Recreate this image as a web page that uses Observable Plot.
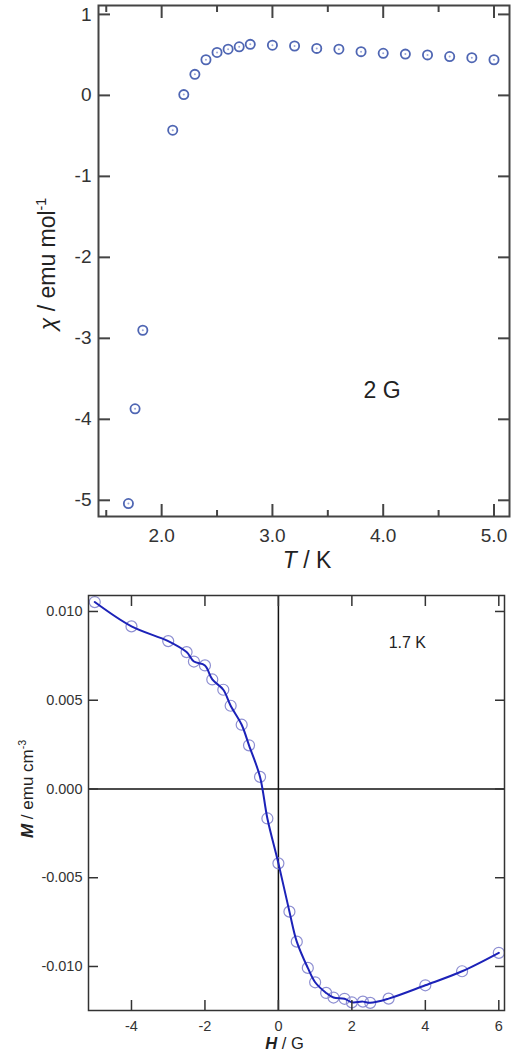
<!DOCTYPE html>
<html><head><meta charset="utf-8">
<script src="https://cdn.jsdelivr.net/npm/d3@7"></script>
<script src="https://cdn.jsdelivr.net/npm/@observablehq/plot@0.6"></script>
<style>
html,body{margin:0;padding:0;background:#fff;}
#chart{width:512px;}
#chart svg{display:block;}
</style></head><body><div id="chart"></div>
<script>
// ---- Top panel: chi vs T (2 G) ----
const temperatureK = [1.70, 1.76, 1.83, 2.1, 2.2, 2.3, 2.4, 2.5, 2.6, 2.7, 2.8, 3.0, 3.2, 3.4, 3.6, 3.8, 4.0, 4.2, 4.4, 4.6, 4.8, 5.0];
const chiEmuMol = [-5.04, -3.87, -2.90, -0.43, 0.01, 0.26, 0.44, 0.53, 0.57, 0.60, 0.63, 0.62, 0.61, 0.58, 0.57, 0.54, 0.52, 0.51, 0.50, 0.48, 0.465, 0.44];
const chiXTicks = [2, 3, 4, 5];
const chiXMinorTicks = [1.5, 2.5, 3.5, 4.5];
const chiYTicks = [-5, -4, -3, -2, -1, 0, 1];

// ---- Bottom panel: M vs H (1.7 K) ----
const fieldG = [-5, -4, -3, -2.5, -2.3, -2.0, -1.8, -1.5, -1.3, -1.0, -0.8, -0.5, -0.3, 0, 0.3, 0.5, 0.8, 1.0, 1.3, 1.5, 1.8, 2.0, 2.3, 2.5, 3.0, 4.0, 5.0, 6.0];
const magnetEmuCm3 = [0.01053, 0.00916, 0.00833, 0.00771, 0.00718, 0.00696, 0.00617, 0.00559, 0.00469, 0.00362, 0.00246, 0.00068, -0.00166, -0.00419, -0.00691, -0.0086, -0.01008, -0.01089, -0.01149, -0.01175, -0.01182, -0.01202, -0.01198, -0.01205, -0.01181, -0.01106, -0.01027, -0.00923];
const mXTicks = [-4, -2, 0, 2, 4, 6];
const mYTicks = [-0.010, -0.005, 0, 0.005, 0.010];

const chiData = temperatureK.map((T, i) => ({T, chi: chiEmuMol[i]}));
const mData = fieldG.map((H, i) => ({H, M: magnetEmuCm3[i]}));
const font = "'Liberation Sans', Arial, Helvetica, sans-serif";
const none = () => "";

// inward-pointing tick helpers (ticks only, no labels)
function inTicksX(ticks, anchor, len, stroke, sw) {
  return Plot.axisX({ticks, anchor, tickSize: len, dy: anchor === "bottom" ? -len : len, stroke, strokeWidth: sw, tickFormat: none, label: null});
}
function inTicksY(ticks, anchor, len, stroke, sw) {
  return Plot.axisY({ticks, anchor, tickSize: len, dx: anchor === "left" ? len : -len, stroke, strokeWidth: sw, tickFormat: none, label: null});
}

const topPlot = Plot.plot({
  width: 512, height: 575, marginTop: 5, marginBottom: 59, marginLeft: 98, marginRight: 3,
  style: {fontFamily: font, color: "#333", background: "white", overflow: "visible"},
  x: {domain: [1.43, 5.14]},
  y: {domain: [-5.2, 1.11]},
  marks: [
    Plot.dot(chiData, {x: "T", y: "chi", r: 4.6, stroke: "#4f66b3", strokeWidth: 1.8, fill: "none"}),
    Plot.dot(chiData, {x: "T", y: "chi", r: 1, fill: "#9aa6d6", stroke: "none"}),
    Plot.frame({stroke: "#444", strokeWidth: 2}),
    inTicksX(chiXTicks, "bottom", 12, "#444", 2),
    inTicksX(chiXMinorTicks, "bottom", 6, "#444", 2),
    inTicksX(chiXTicks, "top", 12, "#444", 2),
    inTicksX(chiXMinorTicks, "top", 6, "#444", 2),
    inTicksY(chiYTicks, "left", 12, "#444", 2),
    inTicksY(chiYTicks, "right", 12, "#444", 2),
    Plot.axisX({ticks: chiXTicks, anchor: "bottom", tickSize: 0, tickPadding: 12, fontSize: 19, tickFormat: d => d.toFixed(1), label: null}),
    Plot.axisY({ticks: chiYTicks, anchor: "left", tickSize: 0, tickPadding: 7, fontSize: 19, tickFormat: d => String(d), label: null}),
    Plot.text(["T / K"], {frameAnchor: "bottom", dy: 44, dx: 3, lineAnchor: "middle", fontSize: 23, fill: "#222"}),
    Plot.text(["χ / emu mol-1"], {frameAnchor: "left", dx: -44, dy: 3, rotate: -90, lineAnchor: "bottom", textAnchor: "middle", fontSize: 23, fill: "#222"}),
    Plot.text(["2 G"], {x: 3.99, y: -3.64, fontSize: 23, fill: "#222"})
  ]
});

const botPlot = Plot.plot({
  width: 512, height: 480, marginTop: 20, marginBottom: 45, marginLeft: 88, marginRight: 8,
  style: {fontFamily: font, color: "#333", background: "white", overflow: "visible"},
  x: {domain: [-5.17, 6.155]},
  y: {domain: [-0.01248, 0.0109]},
  marks: [
    Plot.ruleX([0], {stroke: "#111", strokeWidth: 1.5}),
    Plot.ruleY([0], {stroke: "#111", strokeWidth: 1.5}),
    Plot.dot(mData, {x: "H", y: "M", r: 5.5, stroke: "#8e8fd2", strokeWidth: 1.2, fill: "none"}),
    Plot.line(mData, {x: "H", y: "M", stroke: "#1c22b8", strokeWidth: 2, curve: "catmull-rom"}),
    Plot.frame({stroke: "#333", strokeWidth: 1.5}),
    inTicksX(mXTicks, "bottom", 10, "#333", 1.5),
    inTicksX(mXTicks, "top", 10, "#333", 1.5),
    inTicksY(mYTicks, "left", 10, "#333", 1.5),
    inTicksY(mYTicks, "right", 10, "#333", 1.5),
    Plot.axisX({ticks: mXTicks, anchor: "bottom", tickSize: 0, tickPadding: 10, fontSize: 14.5, tickFormat: d => String(d), label: null}),
    Plot.axisY({ticks: mYTicks, anchor: "left", tickSize: 0, tickPadding: 6, fontSize: 14.5, tickFormat: d => d.toFixed(3), label: null}),
    Plot.text(["H / G"], {frameAnchor: "bottom", dy: 33, dx: -12, lineAnchor: "middle", fontSize: 16.5, fill: "#222"}),
    Plot.text(["M / emu cm-3"], {frameAnchor: "left", dx: -56, dy: -14, rotate: -90, lineAnchor: "bottom", textAnchor: "middle", fontSize: 17, fill: "#222"}),
    Plot.text(["1.7 K"], {x: 3.51, y: 0.00824, fontSize: 16, fill: "#222"})
  ]
});

document.getElementById("chart").append(topPlot, botPlot);

function rich(svg, plain, parts) {
  d3.select(svg).selectAll("text").filter(function () { return this.textContent === plain; })
    .each(function () {
      const t = d3.select(this);
      t.text("");
      parts.forEach(p => {
        const s = t.append("tspan").text(p.t);
        if (p.i) s.attr("font-style", "italic");
        if (p.b) s.attr("font-weight", "bold");
        if (p.sup) s.attr("font-size", "0.62em").attr("dy", "-0.6em");
      });
    });
}
rich(topPlot, "T / K", [{t: "T", i: 1}, {t: " / K"}]);
rich(topPlot, "χ / emu mol-1", [{t: "χ", i: 1}, {t: " / emu mol"}, {t: "-1", sup: 1}]);
rich(botPlot, "H / G", [{t: "H", i: 1, b: 1}, {t: " / G"}]);
rich(botPlot, "M / emu cm-3", [{t: "M", i: 1, b: 1}, {t: " / emu cm"}, {t: "-3", sup: 1}]);
</script></body></html>
